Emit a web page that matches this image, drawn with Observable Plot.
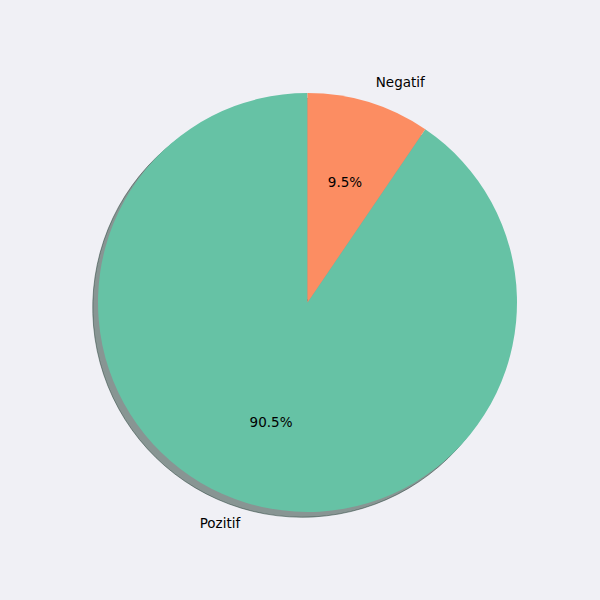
<!DOCTYPE html>
<html>
<head>
<meta charset="utf-8">
<script src="https://cdn.jsdelivr.net/npm/d3@7"></script>
<script src="https://cdn.jsdelivr.net/npm/@observablehq/plot@0.6"></script>
<style>
  html, body { margin: 0; padding: 0; background: #f0f0f5; }
  #chart { width: 600px; height: 600px; }
</style>
</head>
<body>
<div id="chart"></div>
<script>
// Data
const labels = ["Pozitif", "Negatif"];
const values = [90.5, 9.5];
const colors = ["#66c2a5", "#fc8d62"];

// Layout constants (pixels)
const W = 600, H = 600;
const cx = 307.5, cy = 302.5, R = 209.5;
const startDeg = 90; // counter-clockwise from top

// Compute slice angles (math convention, degrees, counter-clockwise)
const total = d3.sum(values);
let acc = startDeg;
const slices = values.map((v, i) => {
  const a0 = acc;
  const a1 = acc + 360 * v / total;
  acc = a1;
  const mid = (a0 + a1) / 2 * Math.PI / 180;
  return {
    label: labels[i], value: v, color: colors[i], a0, a1,
    pct: (100 * v / total).toFixed(1) + "%",
    lx: 1.1 * Math.cos(mid), ly: 1.1 * Math.sin(mid),
    px: 0.6 * Math.cos(mid), py: 0.6 * Math.sin(mid)
  };
});

// data-space domains so that (0,0) maps to (cx,cy) and 1 unit = R px
const xDomain = [-cx / R, (W - cx) / R];
const yDomain = [-(H - cy) / R, cy / R];

function toD3Angle(deg) { // d3.arc: 0 at 12 o'clock, clockwise
  return (90 - deg) * Math.PI / 180;
}

const wedgeMark = (index, scales) => {
  const x0 = scales.x(0), y0 = scales.y(0);
  const r = scales.x(1) - scales.x(0);
  const g = d3.create("svg:g");
  const arc = d3.arc().innerRadius(0).outerRadius(r);
  const off = 0.025 * r;
  // shadow
  const sg = g.append("g").attr("transform", `translate(${x0 - off},${y0 + off})`);
  slices.forEach(s => {
    const c = d3.rgb(s.color);
    const sc = d3.rgb(c.r * 0.3, c.g * 0.3, c.b * 0.3);
    sg.append("path")
      .attr("d", arc({startAngle: toD3Angle(s.a1), endAngle: toD3Angle(s.a0)}))
      .attr("fill", sc.formatHex()).attr("fill-opacity", 0.5)
      .attr("stroke", sc.formatHex()).attr("stroke-opacity", 0.5).attr("stroke-width", 1);
  });
  const pg = g.append("g").attr("transform", `translate(${x0},${y0})`);
  slices.forEach(s => {
    pg.append("path")
      .attr("d", arc({startAngle: toD3Angle(s.a1), endAngle: toD3Angle(s.a0)}))
      .attr("fill", s.color);
  });
  return g.node();
};

const plot = Plot.plot({
  width: W, height: H,
  margin: 0,
  style: {background: "#f0f0f5", fontFamily: "DejaVu Sans", fontSize: "13.3px", color: "#000"},
  x: {domain: xDomain, axis: null},
  y: {domain: yDomain, axis: null},
  marks: [
    wedgeMark,
    Plot.text(slices.filter(d => d.lx > 0), {
      x: "lx", y: "ly", text: "label",
      textAnchor: "start", fill: "#000", fontSize: 13.5
    }),
    Plot.text(slices.filter(d => d.lx <= 0), {
      x: "lx", y: "ly", text: "label",
      textAnchor: "end", fill: "#000", fontSize: 13.5
    }),
    Plot.text(slices, {
      x: "px", y: "py", text: "pct",
      textAnchor: "middle", fill: "#000", fontSize: 13.5
    })
  ]
});
document.getElementById("chart").appendChild(plot);
</script>
</body>
</html>
